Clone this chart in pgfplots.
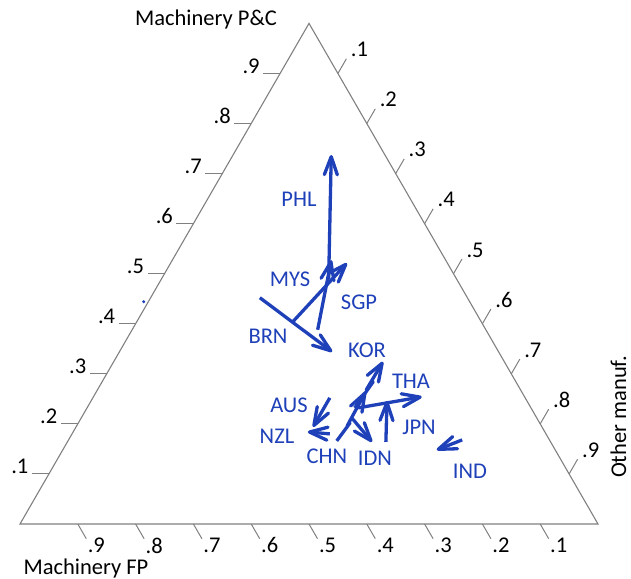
\documentclass[border=0pt]{standalone}
\usepackage{fontspec}
\setmainfont{Carlito}
\usepackage{pgfplots}
\pgfplotsset{compat=1.18}
\usetikzlibrary{arrows.meta}

\definecolor{trail}{RGB}{30,64,184}
\definecolor{frame}{RGB}{128,128,128}

% ternary shares (fp, pc, other) -> drawing coordinates of the triangle
\pgfplotsset{
  /pgfplots/table/ternxy/.style={
    x expr={20+578*(\thisrow{other}+0.5*\thisrow{pc})},
    y expr={524-500.6*\thisrow{pc}}},
  trailpath/.style={trail, line width=3.3bp, line join=round,
    -{Straight Barb[length=18bp,width=13bp,round]}},
}

\begin{document}
\begin{tikzpicture}[font=\fontsize{22.5bp}{26bp}\selectfont]
\begin{axis}[x=1bp, y=1bp, xmin=0, xmax=631, ymin=0, ymax=579,
  y dir=reverse, hide axis, clip=false]

% triangle
\draw[frame, line width=1.1bp, line join=miter]
  (axis cs:20,524) -- (axis cs:598,524) -- (axis cs:309,23.4) -- cycle;

% scales on the three sides
\pgfplotsinvokeforeach{1,...,9}{
  \draw[frame, line width=1bp] (axis cs:{20+28.9*#1},{524-50.06*#1}) -- ++(-17bp,0pt)
    node[black, anchor=base east, inner sep=0pt, xshift=-3bp] {.#1};
  \draw[frame, line width=1bp] (axis cs:{309+28.9*#1},{23.4+50.06*#1}) -- ++(8.5bp,14.7bp)
    node[black, anchor=base west, inner sep=0pt, xshift=4bp, yshift=2bp] {.#1};
  \draw[frame, line width=1bp] (axis cs:{598-57.8*#1},524) -- ++(8.5bp,-14.7bp)
    node[black, anchor=north west, inner sep=0pt, xshift=1bp, yshift=1.5bp] {.#1};
}

% corner titles
\node[anchor=base, inner sep=0pt] at (axis cs:86,574) {Machinery FP};
\node[anchor=base, inner sep=0pt] at (axis cs:206,26) {Machinery P\&C};
\node[rotate=90, anchor=base, inner sep=0pt] at (axis cs:626,417) {Other manuf.};

% country trajectories
\addplot[trailpath] table[ternxy] {
fp pc other
0.222 0.488 0.290
0.093 0.737 0.170
}; % PHL
\addplot[trailpath] table[ternxy] {
fp pc other
0.326 0.404 0.270
0.174 0.521 0.305
}; % MYS
\addplot[trailpath] table[ternxy] {
fp pc other
0.291 0.388 0.321
0.198 0.527 0.275
}; % SGP
\addplot[trailpath] table[ternxy] {
fp pc other
0.359 0.452 0.189
0.288 0.344 0.368
}; % BRN
\addplot[trailpath] table[ternxy] {
fp pc other
0.305 0.232 0.463
0.247 0.284 0.469
0.267 0.268 0.465
0.210 0.324 0.466
}; % KOR
\addplot[trailpath] table[ternxy] {
fp pc other
0.299 0.232 0.469
0.178 0.254 0.568
}; % THA
\addplot[trailpath] table[ternxy] {
fp pc other
0.285 0.164 0.551
0.242 0.246 0.512
}; % JPN
\addplot[trailpath] table[ternxy] {
fp pc other
0.369 0.166 0.465
0.328 0.202 0.470
0.336 0.196 0.468
0.270 0.264 0.466
}; % CHN
\addplot[trailpath] table[ternxy] {
fp pc other
0.320 0.212 0.468
0.309 0.164 0.527
}; % IDN
\addplot[trailpath] table[ternxy] {
fp pc other
0.338 0.252 0.410
0.396 0.194 0.410
}; % AUS
\addplot[trailpath] table[ternxy] {
fp pc other
0.374 0.180 0.446
0.410 0.184 0.406
}; % NZL
\addplot[trailpath] table[ternxy] {
fp pc other
0.151 0.168 0.681
0.205 0.148 0.647
}; % IND
\addplot[only marks, mark=*, mark size=1.3bp, trail] table[ternxy] {
fp pc other
0.564 0.444 -0.008
};

% country names
\begin{scope}[every node/.style={text=trail, inner sep=0pt}]
\node at (axis cs:299,199) {PHL};
\node at (axis cs:290,279) {MYS};
\node at (axis cs:359,302) {SGP};
\node at (axis cs:268,336) {BRN};
\node at (axis cs:367,350) {KOR};
\node at (axis cs:411,381) {THA};
\node at (axis cs:289,405) {AUS};
\node at (axis cs:277,436) {NZL};
\node at (axis cs:419,427) {JPN};
\node at (axis cs:327,456) {CHN};
\node at (axis cs:375,458) {IDN};
\node at (axis cs:470,471) {IND};
\end{scope}
\end{axis}
\pgfresetboundingbox
\useasboundingbox (current axis.south west) rectangle (current axis.north east);
\end{tikzpicture}
\end{document}
